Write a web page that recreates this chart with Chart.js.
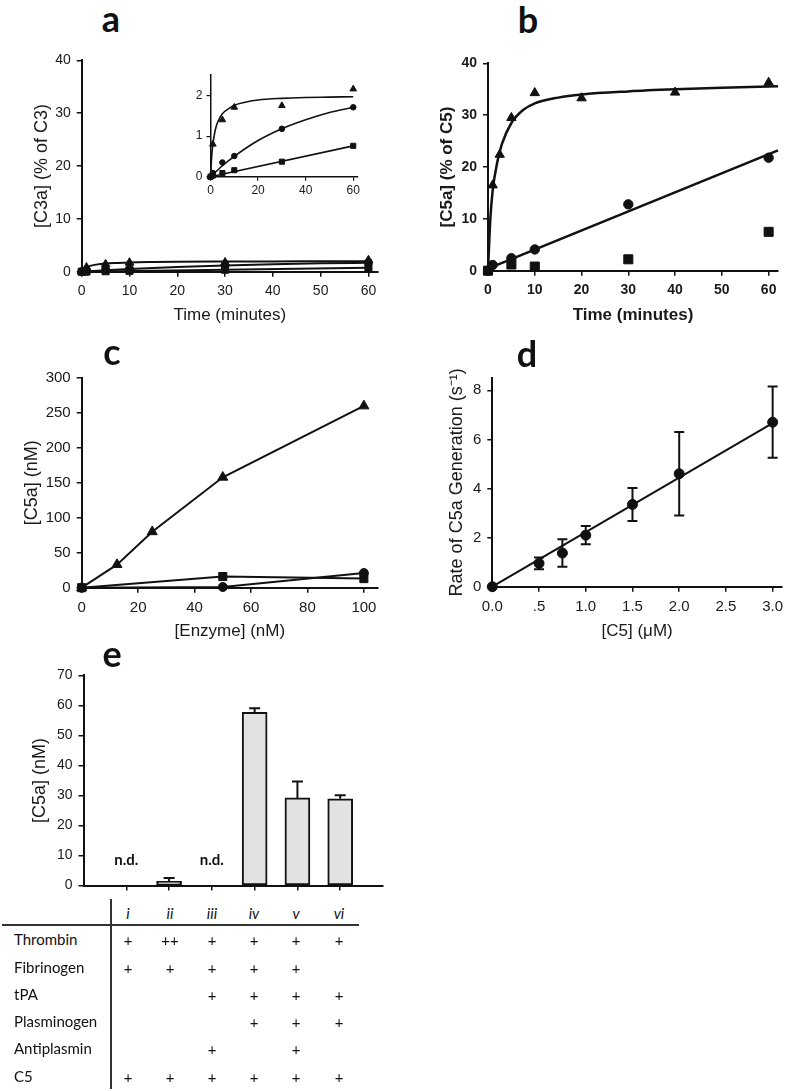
<!DOCTYPE html>
<html><head><meta charset="utf-8">
<script src="https://cdn.jsdelivr.net/npm/chart.js@4.4.0/dist/chart.umd.min.js"></script>
<style>
html,body{margin:0;padding:0;background:#fff;}
body{width:796px;height:1091px;position:relative;overflow:hidden;-webkit-font-smoothing:antialiased;}
canvas{position:absolute;}
.lbl{position:absolute;font-family:Lato,'Noto Sans',sans-serif;font-weight:700;font-size:36px;line-height:36px;width:40px;text-align:center;color:#111;}
.tb{position:absolute;font-family:Lato,'Noto Sans',sans-serif;font-size:15px;line-height:16px;height:16px;color:#111;white-space:nowrap;}
.c{width:40px;text-align:center;}
.hl{position:absolute;background:#333;}
</style></head><body>
<script>
// ---------- DATA ----------
// Panel a (C3a, % of C3) - same values shown in main plot and inset
const aTime      = [0, 1, 5, 10, 30, 60];
const aTriangle  = [0, 0.8, 1.4, 1.71, 1.75, 2.16];
const aCircle    = [0, 0.09, 0.35, 0.51, 1.18, 1.71];
const aSquare    = [0, 0.03, 0.09, 0.16, 0.37, 0.76];
const aTriFitT   = [0, 0.5, 1, 2, 3, 5, 7.5, 10, 15, 20, 30, 40, 50, 60];
const aTriFitY   = [0, 0.5, 0.8, 1.15, 1.34, 1.55, 1.67, 1.76, 1.84, 1.89, 1.93, 1.95, 1.96, 1.97];
const aCirFitT   = [0, 5, 10, 20, 30, 40, 50, 60];
const aCirFitY   = [0, 0.27, 0.5, 0.89, 1.18, 1.4, 1.58, 1.71];
const aSqFitT    = [0, 60];
const aSqFitY    = [0, 0.76];

// Panel b (C5a, % of C5)
const bTriT = [0, 1, 2.5, 5, 10, 20, 40, 60];
const bTriY = [0, 16.5, 22.4, 29.5, 34.3, 33.3, 34.4, 36.3];
const bCirT = [0, 1, 5, 10, 30, 60];
const bCirY = [0, 1.1, 2.4, 4.1, 12.8, 21.8];
const bSqT  = [0, 5, 10, 30, 60];
const bSqY  = [0, 1.2, 0.8, 2.2, 7.5];
const bTriFitT = [0, 0.5, 1, 2, 3, 5, 7.5, 10, 15, 20, 30, 40, 50, 62];
const bTriFitY = [0, 10, 15.5, 21, 24.5, 28.5, 31, 32.3, 33.4, 34, 34.6, 35, 35.3, 35.6];
const bCirFitT = [0, 62];
const bCirFitY = [0.4, 23.2];

// Panel c ([C5a] nM vs [Enzyme] nM)
const cTriX = [0, 12.5, 25, 50, 100];
const cTriY = [0, 33, 80, 158, 260];
const cSqX  = [0, 50, 100];
const cSqY  = [0, 16, 13];
const cCirX = [0, 50, 100];
const cCirY = [0, 1, 21];

// Panel d (rate vs [C5])
const dC5    = [0, 0.5, 0.75, 1.0, 1.5, 2.0, 3.0];
const dRate  = [0, 0.95, 1.37, 2.1, 3.35, 4.6, 6.7];
const dErr   = [0, 0.24, 0.56, 0.37, 0.67, 1.7, 1.45];
const dFitX  = [0, 3.0];
const dFitY  = [0, 6.66];
const dXTickLabels = ['0.0', '.5', '1.0', '1.5', '2.0', '2.5', '3.0'];

// Panel e (bars)
const eConditions = ['i', 'ii', 'iii', 'iv', 'v', 'vi'];
const eValues     = [null, 1.4, null, 57.7, 29.2, 28.9];
const eErrors     = [null, 1.1, null, 1.4, 5.5, 1.2];
const eNotDetected = [true, false, true, false, false, false];

// Table under panel e
const tableRows  = ['Thrombin', 'Fibrinogen', 'tPA', 'Plasminogen', 'Antiplasmin', 'C5'];
const tableMarks = [
  ['+', '++', '+', '+', '+', '+'],
  ['+', '+', '+', '+', '+', ''],
  ['', '', '+', '+', '+', '+'],
  ['', '', '', '+', '+', '+'],
  ['', '', '+', '', '+', ''],
  ['+', '+', '+', '+', '+', '+']
];

// ---------- HELPERS ----------
const AX = "'Liberation Sans', Arial, sans-serif";
const INK = '#111';
const pts = (xs, ys) => xs.map((x, i) => ({x, y: ys[i]}));
function markers(xs, ys, style, r) {
  return {data: pts(xs, ys), showLine: false, pointStyle: style, pointRadius: r,
    pointBackgroundColor: INK, pointBorderColor: INK, pointBorderWidth: 1, clip: false};
}
function fitLine(xs, ys, w, smooth) {
  const d = {data: pts(xs, ys), showLine: true, pointRadius: 0, borderColor: INK, borderWidth: w,
    tension: 0, fill: false, clip: false};
  if (smooth) d.cubicInterpolationMode = 'monotone';
  return d;
}
function connected(xs, ys, style, r, w) {
  return {data: pts(xs, ys), showLine: true, pointStyle: style, pointRadius: r, borderColor: INK,
    borderWidth: w, pointBackgroundColor: INK, pointBorderColor: INK, pointBorderWidth: 1, tension: 0, clip: false};
}
function axis(o) {
  const a = {
    type: 'linear', min: o.min, max: o.max,
    ticks: {stepSize: o.step, includeBounds: false, font: o.font, color: '#1a1a1a', padding: o.pad ?? 6,
      maxRotation: 0, autoSkip: false},
    grid: {display: true, drawOnChartArea: false, drawTicks: true, tickLength: o.tickLen ?? 5, color: INK, lineWidth: o.tickW ?? 1.5},
    border: {display: true, color: INK, width: o.lineW ?? 2},
    title: o.title ? {display: true, text: o.title.text, font: {family: AX, size: o.title.size, weight: o.title.weight || 'normal'}, color: '#1a1a1a', padding: 0} : {display: false}
  };
  if (o.labels) a.ticks.callback = (v, i) => o.labels[i];
  return a;
}
function makePanel(o) {
  const padTop = o.padTop ?? 12, padRight = o.padRight ?? 14;
  const yt = o.yTitle, xt = o.xTitle;
  const lhY = yt ? yt.size * 1.2 : 0, lhX = xt ? xt.size * 1.2 : 0;
  const left = Math.round(yt ? yt.x - lhY / 2 : o.L - o.yAxisW);
  const top = Math.round(o.T - padTop);
  const right = Math.round(o.R + padRight);
  const bottom = Math.round(xt ? xt.y + lhX / 2 : o.B + o.xAxisH);
  const W = right - left, H = bottom - top;
  const cv = document.createElement('canvas');
  cv.width = W; cv.height = H;
  Object.assign(cv.style, {left: left + 'px', top: top + 'px', width: W + 'px', height: H + 'px'});
  document.body.appendChild(cv);
  const yW = o.L - left, xH = bottom - o.B;
  const cfg = o.config;
  cfg.options.responsive = false;
  cfg.options.animation = false;
  cfg.options.devicePixelRatio = 1;
  cfg.options.layout = {padding: {top: o.T - top, right: right - o.R, left: 0, bottom: 0}};
  cfg.options.plugins = Object.assign({legend: {display: false}, tooltip: {enabled: false}}, cfg.options.plugins || {});
  cfg.options.scales.x.afterFit = s => { s.height = xH; };
  cfg.options.scales.y.afterFit = s => { s.width = yW; };
  return new Chart(cv, cfg);
}

const tick14 = {family: AX, size: 14};
const tick14b = {family: AX, size: 14, weight: 'bold'};
const tick15 = {family: AX, size: 15};

// ---------- PANEL a (main) ----------
makePanel({
  L: 81.7, T: 58.3, R: 378, B: 271.7,
  yTitle: {x: 42, size: 18}, xTitle: {y: 316, size: 17},
  config: {type: 'line', data: {datasets: [
    fitLine(aTriFitT, aTriFitY, 2, true), fitLine(aCirFitT, aCirFitY, 2, true), fitLine(aSqFitT, aSqFitY, 2, false),
    markers(aTime, aTriangle, 'triangle', 5), markers(aTime, aCircle, 'circle', 4), markers(aTime, aSquare, 'rect', 5)
  ]}, options: {scales: {
    x: axis({min: 0, max: 62, step: 10, font: tick14, title: {text: 'Time (minutes)', size: 17}}),
    y: axis({min: 0, max: 40, step: 10, font: tick14, title: {text: '[C3a] (% of C3)', size: 18}})
  }}}
});

// ---------- PANEL a (inset) ----------
const tick12 = {family: AX, size: 12};
makePanel({
  L: 210.5, T: 72, R: 358, B: 176.7, yAxisW: 30, xAxisH: 28, padTop: 8, padRight: 12,
  config: {type: 'line', data: {datasets: [
    fitLine(aTriFitT, aTriFitY, 1.6, true), fitLine(aCirFitT, aCirFitY, 1.6, true), fitLine(aSqFitT, aSqFitY, 1.6, false),
    markers(aTime, aTriangle, 'triangle', 3.8), markers(aTime, aCircle, 'circle', 2.8), markers(aTime, aSquare, 'rect', 3.6)
  ]}, options: {scales: {
    x: axis({min: 0, max: 62, step: 20, font: tick12, tickLen: 4, pad: 3, lineW: 1.5, tickW: 1.2}),
    y: axis({min: 0, max: 2.5, step: 1, font: tick12, tickLen: 4, pad: 4, lineW: 1.5, tickW: 1.2})
  }}}
});

// ---------- PANEL b ----------
makePanel({
  L: 488, T: 61, R: 778, B: 270.7,
  yTitle: {x: 447, size: 17}, xTitle: {y: 316, size: 17},
  config: {type: 'line', data: {datasets: [
    fitLine(bTriFitT, bTriFitY, 2.5, true), fitLine(bCirFitT, bCirFitY, 2.5, false),
    markers(bTriT, bTriY, 'triangle', 5.4), markers(bCirT, bCirY, 'circle', 4.7), markers(bSqT, bSqY, 'rect', 6.4)
  ]}, options: {scales: {
    x: axis({min: 0, max: 62, step: 10, font: tick14b, title: {text: 'Time (minutes)', size: 17, weight: 'bold'}}),
    y: axis({min: 0, max: 40, step: 10, font: tick14b, title: {text: '[C5a] (% of C5)', size: 17, weight: 'bold'}})
  }}}
});

// ---------- PANEL c ----------
makePanel({
  L: 81.7, T: 375, R: 378, B: 587.7,
  yTitle: {x: 32, size: 18}, xTitle: {y: 632, size: 17},
  config: {type: 'line', data: {datasets: [
    connected(cTriX, cTriY, 'triangle', 5.8, 2), connected(cSqX, cSqY, 'rect', 5.7, 2), connected(cCirX, cCirY, 'circle', 4.5, 2)
  ]}, options: {scales: {
    x: axis({min: 0, max: 105, step: 20, font: tick15, title: {text: '[Enzyme] (nM)', size: 17}}),
    y: axis({min: 0, max: 300, step: 50, font: tick15, title: {text: '[C5a] (nM)', size: 18}})
  }}}
});

// ---------- PANEL d ----------
const dErrorPlugin = {id: 'dErr', afterDatasetsDraw(chart) {
  const {ctx, scales: {x, y}} = chart;
  ctx.save(); ctx.strokeStyle = INK; ctx.lineWidth = 2;
  dC5.forEach((c, i) => {
    const e = dErr[i]; if (!e) return;
    const px = x.getPixelForValue(c);
    const y1 = y.getPixelForValue(dRate[i] - e), y2 = y.getPixelForValue(dRate[i] + e);
    ctx.beginPath();
    ctx.moveTo(px, y1); ctx.lineTo(px, y2);
    ctx.moveTo(px - 5, y1); ctx.lineTo(px + 5, y1);
    ctx.moveTo(px - 5, y2); ctx.lineTo(px + 5, y2);
    ctx.stroke();
  });
  ctx.restore();
}};
makePanel({
  L: 492.3, T: 375, R: 782, B: 586.7,
  yTitle: {x: 457, size: 18}, xTitle: {y: 632, size: 17},
  config: {type: 'line', data: {datasets: [
    fitLine(dFitX, dFitY, 2, false), markers(dC5, dRate, 'circle', 5)
  ]}, options: {scales: {
    x: axis({min: 0, max: 3.1, step: 0.5, font: tick15, labels: dXTickLabels, title: {text: '[C5] (\u03BCM)', size: 17}}),
    y: axis({min: 0, max: 8.5, step: 2, font: tick15, title: {text: 'Rate of C5a Generation (s\u207B\u00B9)', size: 18}})
  }}, plugins: [dErrorPlugin]}
});

// ---------- PANEL e ----------
const eErrorPlugin = {id: 'eErr', afterDatasetsDraw(chart) {
  const {ctx, scales: {x, y}} = chart;
  ctx.save(); ctx.strokeStyle = INK; ctx.lineWidth = 2; ctx.fillStyle = INK;
  ctx.font = "bold 15px Lato, 'Noto Sans', sans-serif"; ctx.textAlign = 'center'; ctx.textBaseline = 'middle';
  eConditions.forEach((c, i) => {
    const px = x.getPixelForValue(i + 1);
    if (eNotDetected[i]) { ctx.fillText('n.d.', px, y.getPixelForValue(0) - 25); return; }
    const v = eValues[i], e = eErrors[i]; if (v == null || !e) return;
    const y1 = y.getPixelForValue(v), y2 = y.getPixelForValue(v + e);
    ctx.beginPath();
    ctx.moveTo(px, y1); ctx.lineTo(px, y2);
    ctx.moveTo(px - 5.5, y2); ctx.lineTo(px + 5.5, y2);
    ctx.stroke();
  });
  ctx.restore();
}};
const eX = axis({step: 1, font: tick14});
delete eX.min; delete eX.max;
eX.type = 'category'; eX.offset = false; eX.ticks = {display: false};
eX.grid.offset = false;
eX.grid.color = ctx => (ctx.index === 0 || ctx.index === eConditions.length + 1) ? 'rgba(0,0,0,0)' : INK;
makePanel({
  L: 83.5, T: 673, R: 383, B: 888, xAxisH: 12,
  yTitle: {x: 40, size: 18},
  config: {type: 'bar', data: {labels: ['', ...eConditions, ''], datasets: [{
    data: [null, ...eValues, null], backgroundColor: '#e2e2e2', borderColor: INK, borderWidth: 2,
    borderSkipped: false, barThickness: 25
  }]}, options: {scales: {
    x: eX,
    y: axis({min: 0, max: 70, step: 10, font: tick14, title: {text: '[C5a] (nM)', size: 18}})
  }}, plugins: [eErrorPlugin]}
});

// ---------- PANEL LETTERS ----------
[['a', 111, -0.2], ['b', 527.5, 1.4], ['c', 112, 333.1], ['d', 527, 334.8], ['e', 112, 634.8]].forEach(([t, x, y]) => {
  const d = document.createElement('div'); d.className = 'lbl'; d.textContent = t;
  d.style.left = Math.round(x - 20) + 'px'; d.style.top = Math.round(y) + 'px'; document.body.appendChild(d);
});

// ---------- TABLE ----------
const colX = [127.5, 169.5, 211.5, 254, 296, 339];
const rowY = [940, 967.7, 995, 1021.7, 1049.3, 1076.7];
function txt(t, x, yc, center, extra) {
  const d = document.createElement('div'); d.className = 'tb' + (center ? ' c' : ''); d.textContent = t;
  d.style.left = Math.round(center ? x - 20 : x) + 'px'; d.style.top = Math.round(yc - 9) + 'px';
  if (extra) Object.assign(d.style, extra);
  document.body.appendChild(d);
}
eConditions.forEach((c, j) => txt(c, colX[j], 914, true, {fontStyle: 'italic'}));
tableRows.forEach((r, i) => {
  txt(r, 14, rowY[i], false);
  tableMarks[i].forEach((m, j) => { if (m) txt(m, colX[j], rowY[i] + 1, true); });
});
const h = document.createElement('div'); h.className = 'hl';
Object.assign(h.style, {left: '2px', top: '924px', width: '357px', height: '1.5px'}); document.body.appendChild(h);
const v = document.createElement('div'); v.className = 'hl';
Object.assign(v.style, {left: '110px', top: '899px', width: '1.5px', height: '190px'}); document.body.appendChild(v);
</script>
</body></html>
